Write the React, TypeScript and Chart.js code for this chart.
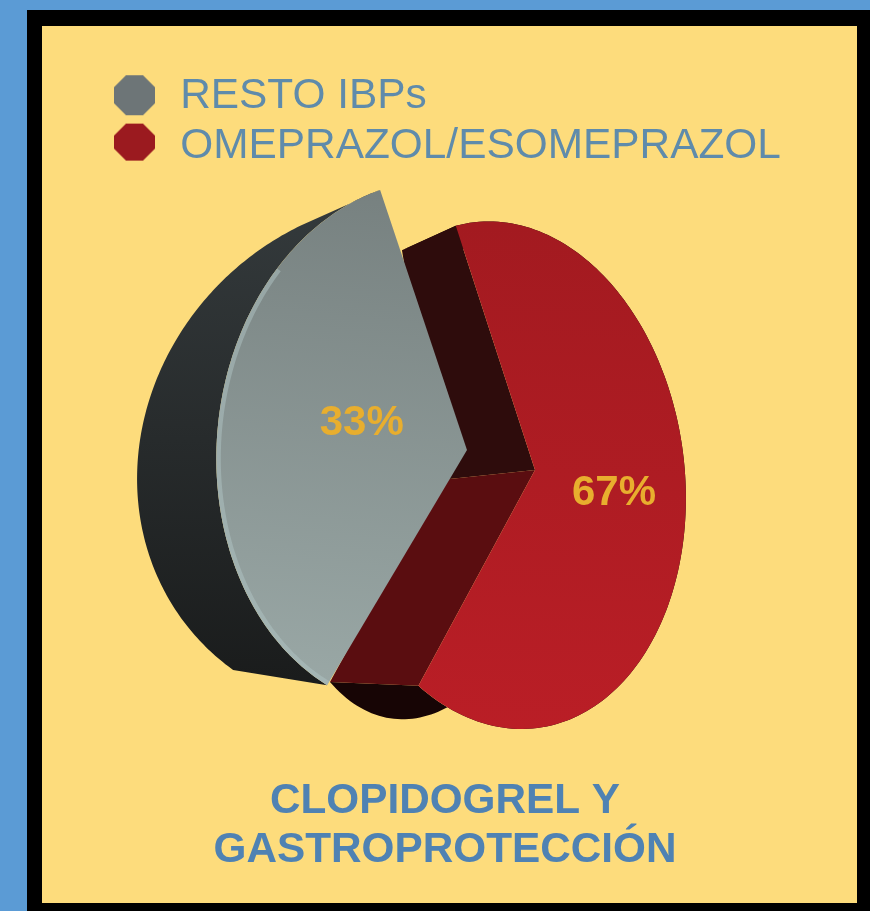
import React, { useEffect, useRef } from "react";
import { Chart, registerables } from "chart.js";

Chart.register(...registerables);

const categories = ["RESTO IBPs", "OMEPRAZOL/ESOMEPRAZOL"];
const values = [33, 67];
const titleLines = ["CLOPIDOGREL Y", "GASTROPROTECCIÓN"];

const FONT = "'Liberation Sans', Arial, sans-serif";
const TEXT_BLUE = "#5f8bab";
const TITLE_BLUE = "#4f82b3";
const LABEL_GOLD = "#e8ae2e";
const markerColors = ["#6d7577", "#9b1a1f"];
const markerHeights = [40, 37];
const markerShifts = [-1, -4.5];

type Face = { ox: number; oy: number; ax: number; ay: number; bx: number; by: number; g: number; h: number };

// Perspective projection of each slice's front and back faces
const views: { front: Face; back: Face; labelR: number; labelDx: number; labelDy: number }[] = [
  {
    front: { ox: 467, oy: 450, ax: 201, ay: 22, bx: -27.8, by: 259.5, g: 0.192, h: 0 },
    back: { ox: 398, oy: 456, ax: 258, ay: 16, bx: -39, by: 258, g: 0, h: 0 },
    labelR: 0.43,
    labelDx: -11,
    labelDy: -16,
  },
  {
    front: { ox: 535, oy: 470, ax: 175, ay: 45, bx: -15, by: 246, g: 0.161, h: -0.05 },
    back: { ox: 440, oy: 480, ax: 132.5, ay: 36.2, bx: -36.4, by: 232.1, g: 0.15, h: -0.03 },
    labelR: 0.52,
    labelDx: -5,
    labelDy: 2,
  },
];

function proj(f: Face, t: number, r = 1): [number, number] {
  const u = r * Math.cos(t);
  const v = r * Math.sin(t);
  const w = 1 + f.g * u + f.h * v;
  return [f.ox + (f.ax * u + f.bx * v) / w, f.oy + (f.ay * u + f.by * v) / w];
}

function arcPoints(f: Face, a: number, b: number): [number, number][] {
  const n = 160;
  const pts: [number, number][] = [];
  for (let i = 0; i <= n; i++) pts.push(proj(f, a + ((b - a) * i) / n));
  return pts;
}

function tracePoly(ctx: CanvasRenderingContext2D, pts: [number, number][], close = true) {
  ctx.beginPath();
  pts.forEach((p, i) => (i ? ctx.lineTo(p[0], p[1]) : ctx.moveTo(p[0], p[1])));
  if (close) ctx.closePath();
}

function fillPoly(ctx: CanvasRenderingContext2D, pts: [number, number][], fill: string | CanvasGradient) {
  tracePoly(ctx, pts);
  ctx.fillStyle = fill;
  ctx.fill();
}

function grad(ctx: CanvasRenderingContext2D, x0: number, y0: number, x1: number, y1: number, c0: string, c1: string) {
  const g = ctx.createLinearGradient(x0, y0, x1, y1);
  g.addColorStop(0, c0);
  g.addColorStop(1, c1);
  return g;
}

const pie3d = {
  id: "pie3d",
  beforeDatasetsDraw(chart: any) {
    const ctx: CanvasRenderingContext2D = chart.ctx;
    const arcs = chart.getDatasetMeta(0).data;
    const ang = arcs.map((el: any) => el.getProps(["startAngle", "endAngle"], true));

    // Red slice first (behind)
    {
      const { startAngle: a, endAngle: b } = ang[1];
      const { front, back } = views[1];
      const fo = proj(front, 0, 0);
      const bo = proj(back, 0, 0);
      fillPoly(ctx, [...arcPoints(back, a, b), ...arcPoints(front, a, b).reverse()], "#170505");
      fillPoly(ctx, [fo, proj(front, a), proj(back, a), bo], "#2e0c0c");
      fillPoly(ctx, [fo, proj(front, b), proj(back, b), bo], "#5a0d10");
      fillPoly(ctx, [fo, ...arcPoints(front, a, b)], grad(ctx, 500, 225, 480, 730, "#a31a20", "#ba1e26"));
    }
    // Gray slice on top
    {
      const { startAngle: a, endAngle: b } = ang[0];
      const { front, back } = views[0];
      const fo = proj(front, 0, 0);
      fillPoly(
        ctx,
        [...arcPoints(back, a, b), ...arcPoints(front, a, b).reverse()],
        grad(ctx, 250, 200, 250, 680, "#343a3c", "#1a1c1c")
      );
      const face: [number, number][] = [fo, ...arcPoints(front, a, b)];
      fillPoly(ctx, face, grad(ctx, 380, 190, 330, 680, "#778180", "#99a7a5"));
      ctx.save();
      tracePoly(ctx, face);
      ctx.clip();
      tracePoly(ctx, arcPoints(front, a, b - 0.5), false);
      ctx.strokeStyle = "rgba(176,196,196,0.5)";
      ctx.lineWidth = 9;
      ctx.stroke();
      ctx.restore();
    }
    // Percent labels
    ctx.font = `bold 42px ${FONT}`;
    ctx.fillStyle = LABEL_GOLD;
    ctx.textAlign = "center";
    ctx.textBaseline = "middle";
    arcs.forEach((_: any, i: number) => {
      const mid = (ang[i].startAngle + ang[i].endAngle) / 2;
      const p = proj(views[i].front, mid, views[i].labelR);
      ctx.fillText(`${values[i]}%`, p[0] + views[i].labelDx, p[1] + views[i].labelDy);
    });
    return false;
  },
};

function octagon(color: string, h: number, shift: number): HTMLCanvasElement {
  const c = document.createElement("canvas");
  c.width = 46;
  c.height = 56;
  const x = c.getContext("2d")!;
  const l = 23 - 1.5 - 20.5;
  const r = l + 41;
  const t = 28 + shift - h / 2;
  const b = t + h;
  const s = 12;
  x.fillStyle = color;
  x.beginPath();
  x.moveTo(l + s, t);
  x.lineTo(r - s, t);
  x.lineTo(r, t + s);
  x.lineTo(r, b - s);
  x.lineTo(r - s, b);
  x.lineTo(l + s, b);
  x.lineTo(l, b - s);
  x.lineTo(l, t + s);
  x.closePath();
  x.fill();
  return c;
}

export default function App() {
  const ref = useRef<HTMLCanvasElement>(null);
  useEffect(() => {
    const chart = new Chart(ref.current!, {
      type: "pie",
      data: {
        labels: categories,
        datasets: [{ data: values, backgroundColor: markerColors, borderWidth: 0 }],
      },
      options: {
        animation: false,
        responsive: false,
        maintainAspectRatio: false,
        rotation: 210.6,
        layout: { padding: { left: 105, right: 85, top: 67, bottom: 37 } },
        plugins: {
          tooltip: { enabled: false },
          legend: {
            position: "top",
            align: "start",
            labels: {
              usePointStyle: true,
              pointStyleWidth: 46,
              padding: 8,
              color: TEXT_BLUE,
              font: { family: FONT, size: 42.4 },
              generateLabels: (c: any) =>
                c.data.labels.map((t: string, i: number) => ({
                  text: t,
                  index: i,
                  hidden: false,
                  fillStyle: markerColors[i],
                  strokeStyle: markerColors[i],
                  lineWidth: 0,
                  fontColor: TEXT_BLUE,
                  pointStyle: octagon(markerColors[i], markerHeights[i], markerShifts[i]),
                })),
            },
          },
          title: {
            display: true,
            position: "bottom",
            text: titleLines,
            color: TITLE_BLUE,
            font: { family: FONT, size: 42.3, weight: "bold", lineHeight: 1.14 },
            padding: { top: 0, bottom: 0 },
          },
        },
      } as any,
      plugins: [pie3d],
    });
    return () => chart.destroy();
  }, []);

  return (
    <div style={{ position: "fixed", inset: 0, width: 870, height: 911, background: "#5b9bd5", overflow: "hidden" }}>
      <div style={{ position: "absolute", left: 27, top: 10, width: 843, height: 901, background: "#000" }} />
      <div style={{ position: "absolute", left: 42, top: 26, width: 815, height: 877, background: "#fddc7c" }} />
      <canvas
        ref={ref}
        width={870}
        height={911}
        style={{ position: "absolute", left: 0, top: 0, display: "block", filter: "blur(0.7px)" }}
      />
    </div>
  );
}
